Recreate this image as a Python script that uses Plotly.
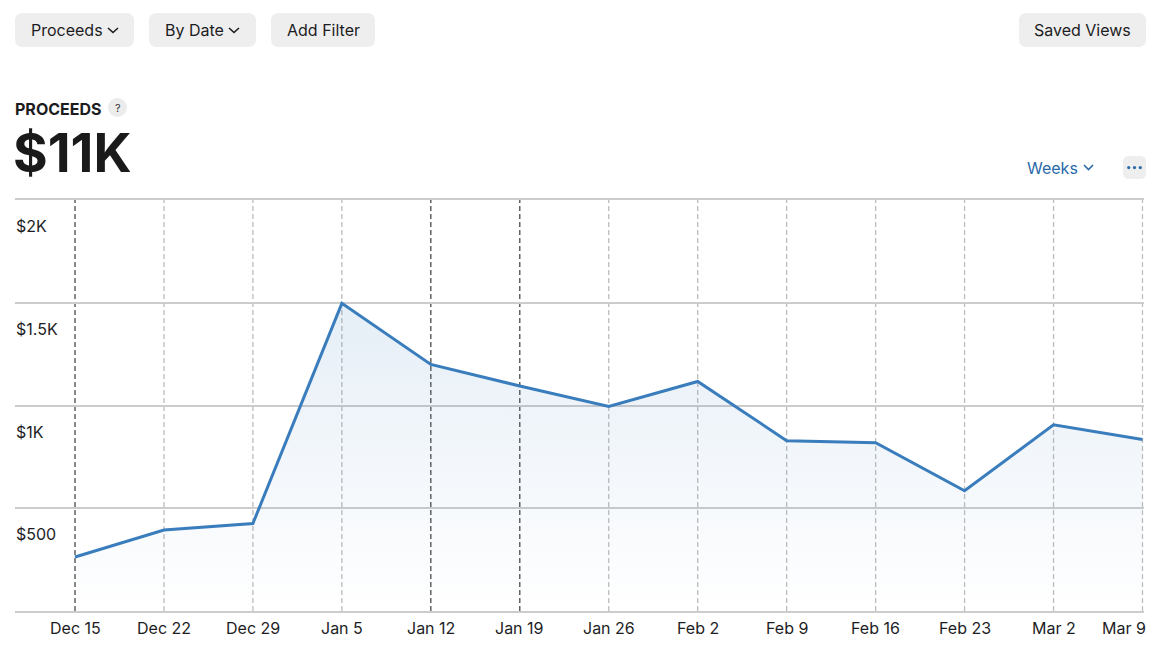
import plotly.graph_objects as go

# ---- data ----
weeks = ["Dec 15", "Dec 22", "Dec 29", "Jan 5", "Jan 12", "Jan 19", "Jan 26",
         "Feb 2", "Feb 9", "Feb 16", "Feb 23", "Mar 2", "Mar 9"]
proceeds = [263, 394, 426, 1497, 1200, 1095, 995, 1117, 829, 819, 585, 906, 835]
emphasized_weeks = ["Dec 15", "Jan 12", "Jan 19"]
y_ticks = [0, 500, 1000, 1500, 2000]
y_tick_labels = ["", "$500", "$1K", "$1.5K", "$2K"]
total_label = "$11K"

W, H = 1163, 649
ML, MR, MT, MB = 15, 19, 200, 38
FONT = "Inter, Roboto, Liberation Sans, sans-serif"
TXT = "#1d1d1f"
BLUE = "#2a6aa8"

def px(x):
    return (x - ML) / (W - ML - MR)

def py(y):
    return (H - MB - y) / (H - MT - MB)

def rrect(x0, y0, x1, y1, r):
    rx = r / (W - ML - MR)
    ry = r / (H - MT - MB)
    X0, X1 = px(x0), px(x1)
    Y0, Y1 = py(y0), py(y1)
    return (f"M {X0+rx},{Y0} L {X1-rx},{Y0} Q {X1},{Y0} {X1},{Y0-ry} "
            f"L {X1},{Y1+ry} Q {X1},{Y1} {X1-rx},{Y1} L {X0+rx},{Y1} "
            f"Q {X0},{Y1} {X0},{Y1+ry} L {X0},{Y0-ry} Q {X0},{Y0} {X0+rx},{Y0} Z")

def chevron(x0, x1, ytop, ybot, color):
    xm = (x0 + x1) / 2
    return dict(type="path", xref="paper", yref="paper",
                path=f"M {px(x0)},{py(ytop)} L {px(xm)},{py(ybot)} L {px(x1)},{py(ytop)}",
                line=dict(color=color, width=1.6))

xs = list(range(len(weeks)))

fig = go.Figure()
fig.add_trace(go.Scatter(
    x=xs, y=proceeds, mode="lines",
    line=dict(color="#3a7dbd", width=3),
    fill="tozeroy",
    fillgradient=dict(type="vertical", start=0, stop=1500,
                      colorscale=[[0, "rgba(58,125,189,0.0)"], [1, "rgba(58,125,189,0.13)"]]),
    hoverinfo="skip", showlegend=False,
))

shapes = []
annotations = []

for i, w in enumerate(weeks):
    dark = w in emphasized_weeks
    shapes.append(dict(type="line", xref="x", yref="paper", x0=i, x1=i, y0=0, y1=1,
                       line=dict(color="#4a4a4a" if dark else "#bdbdbd", width=1.3, dash="5px,3px"),
                       layer="below"))

for v, t in zip(y_ticks, y_tick_labels):
    if t:
        annotations.append(dict(xref="paper", yref="y", x=px(14), y=v, yshift=-26,
                                text=t, showarrow=False, xanchor="left", yanchor="middle",
                                font=dict(family=FONT, size=16, color=TXT)))

for i, w in enumerate(weeks):
    last = i == len(weeks) - 1
    annotations.append(dict(xref="x", yref="paper", x=i, y=0, yshift=-17,
                            xshift=6 if last else 0,
                            text=w, showarrow=False, xanchor="right" if last else "center",
                            yanchor="middle", font=dict(family=FONT, size=16, color=TXT)))

buttons = [
    ("Proceeds", 15, 134, 29, (108, 118)),
    ("By Date", 149, 256, 163, (229, 239)),
    ("Add Filter", 271, 375, None, None),
    ("Saved Views", 1019, 1146, None, None),
]
for label, x0, x1, tx, chev in buttons:
    shapes.append(dict(type="path", xref="paper", yref="paper", path=rrect(x0, 13, x1, 47, 8),
                       fillcolor="#eeeeee", line=dict(width=0)))
    if tx is None:
        annotations.append(dict(xref="paper", yref="paper", x=px((x0 + x1) / 2), y=py(30.5),
                                text=label, showarrow=False, xanchor="center", yanchor="middle",
                                font=dict(family=FONT, size=16, color=TXT)))
    else:
        annotations.append(dict(xref="paper", yref="paper", x=px(tx), y=py(30.5),
                                text=label, showarrow=False, xanchor="left", yanchor="middle",
                                font=dict(family=FONT, size=16, color=TXT)))
        shapes.append(chevron(chev[0], chev[1], 28, 32.5, TXT))

annotations.append(dict(xref="paper", yref="paper", x=px(13), y=py(109),
                        text="<b>PROCEEDS</b>", showarrow=False, xanchor="left", yanchor="middle",
                        font=dict(family=FONT, size=16, color=TXT)))
shapes.append(dict(type="circle", xref="paper", yref="paper",
                   x0=px(108), x1=px(127), y0=py(98), y1=py(117),
                   fillcolor="#ececec", line=dict(width=0)))
annotations.append(dict(xref="paper", yref="paper", x=px(117.5), y=py(107.5),
                        text="?", showarrow=False, xanchor="center", yanchor="middle",
                        font=dict(family=FONT, size=11, color="#333333")))
annotations.append(dict(xref="paper", yref="paper", x=px(11), y=py(153),
                        text=f"<b>{total_label}</b>", showarrow=False, xanchor="left", yanchor="middle",
                        font=dict(family=FONT, size=53, color="#1a1a1a")))

annotations.append(dict(xref="paper", yref="paper", x=px(1025), y=py(168),
                        text="Weeks", showarrow=False, xanchor="left", yanchor="middle",
                        font=dict(family=FONT, size=16, color=BLUE)))
shapes.append(chevron(1084, 1093, 165, 169.5, BLUE))

shapes.append(dict(type="path", xref="paper", yref="paper", path=rrect(1123, 156, 1146, 179, 6),
                   fillcolor="#eeeeee", line=dict(width=0)))
for dx in (1128.7, 1134.5, 1140.3):
    shapes.append(dict(type="circle", xref="paper", yref="paper",
                       x0=px(dx - 1.6), x1=px(dx + 1.6), y0=py(166), y1=py(169.2),
                       fillcolor=BLUE, line=dict(width=0)))

fig.update_layout(
    width=W, height=H,
    margin=dict(l=ML, r=MR, t=MT, b=MB, pad=0),
    paper_bgcolor="white", plot_bgcolor="white",
    showlegend=False,
    xaxis=dict(range=[-0.6745, 12.017], showgrid=False, zeroline=False,
               showticklabels=False, ticks="", fixedrange=True,
               showline=True, mirror=True, linecolor="#cccccc", linewidth=1.5),
    yaxis=dict(range=[0, 2000], tickvals=y_ticks, showgrid=True, gridcolor="#cccccc",
               gridwidth=1.5, zeroline=False, showticklabels=False, ticks="", fixedrange=True),
    shapes=shapes, annotations=annotations,
    font=dict(family=FONT),
)

fig.write_html("out.html", config={"displayModeBar": False},
               post_script="document.body.style.margin='0';document.body.style.padding='0';")
